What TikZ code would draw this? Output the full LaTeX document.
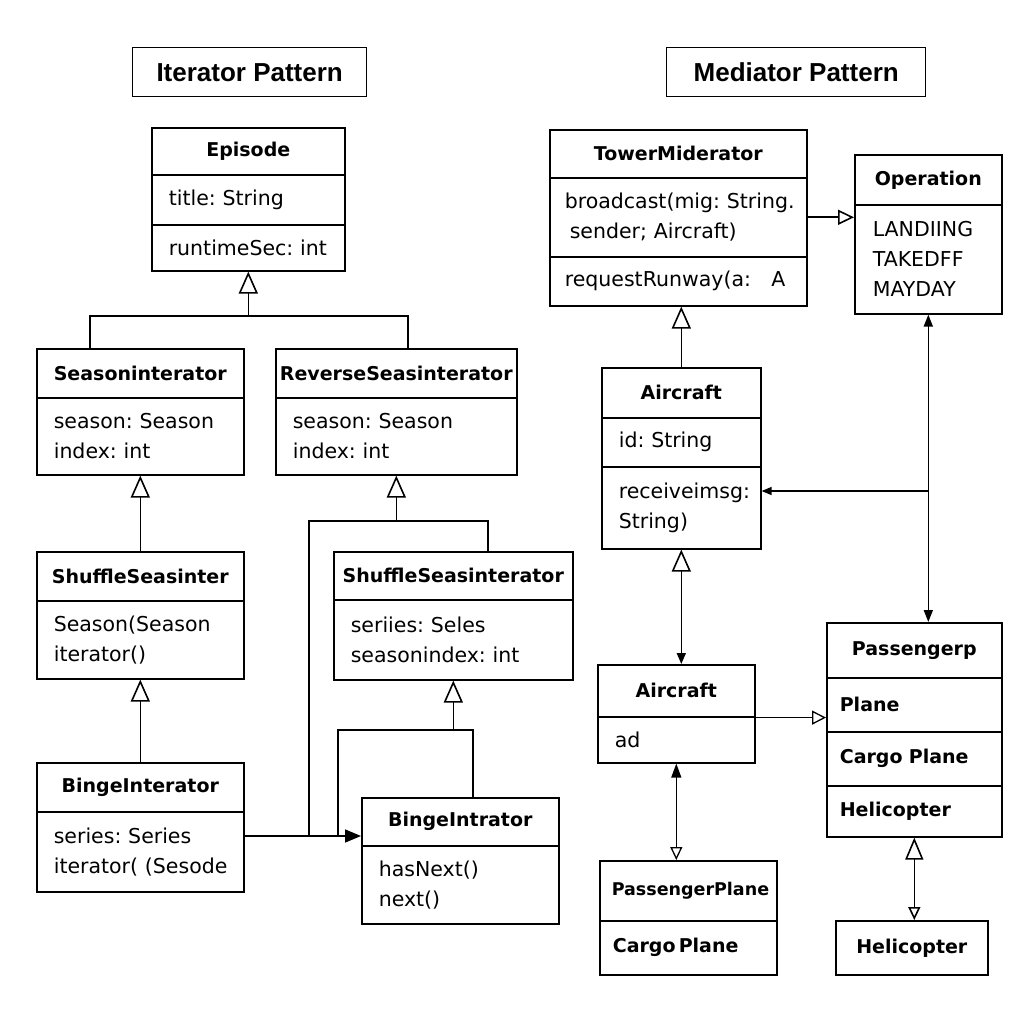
\documentclass[tikz,border=0pt]{standalone}
\usepackage{fontspec}
\setmainfont{DejaVu Sans}
\newfontfamily\titlefont{Liberation Sans}
\usetikzlibrary{arrows.meta}
\frenchspacing

\newcommand{\bodyfont}{\fontsize{20.5}{30}\selectfont}
\newcommand{\headfont}{\fontsize{19}{22}\selectfont\bfseries}

\tikzset{
  cell/.style={draw, line width=1.6pt, anchor=north west, inner xsep=17pt, inner ysep=0pt, align=left, font=\bodyfont},
  head/.style={draw, line width=1.6pt, anchor=north west, inner sep=0pt, font=\headfont},
  headl/.style={cell, inner xsep=13pt, font=\headfont},
  ttl/.style={draw, line width=1.4pt, anchor=north west, inner sep=0pt, minimum height=49pt, font=\titlefont\fontsize{26}{30}\selectfont\bfseries},
  link/.style={line width=1.6pt},
  gen/.style={link, -{Triangle[open, length=22pt, width=19pt]}},
  gens/.style={link, -{Triangle[open, length=16pt, width=15pt]}}
}

\begin{document}
\begin{tikzpicture}[x=1pt, y=-1pt]
\useasboundingbox (0,0) rectangle (1024,1024);

% titles
\node[ttl, minimum width=234pt] (itp) at (132,47) {Iterator Pattern};
\node[ttl, minimum width=259pt] (mdp) at (666,47) {Mediator Pattern};

% iterator side
\node[head, minimum width=193pt, minimum height=47pt] (eph) at (151,127) {Episode};
\node[cell, text width=159pt, minimum height=50pt] (epa) at (151,174) {title: String};
\node[cell, text width=159pt, minimum height=46pt] (epb) at (151,224) {\mbox{runtimeSec: int}};

\node[head, minimum width=207pt, minimum height=49pt] (sih) at (36,348) {Seasoninterator};
\node[cell, text width=173pt, minimum height=77pt] (sib) at (36,397) {season: Season\\index: int};

\node[head, minimum width=241pt, minimum height=49pt] (rvh) at (275,348) {ReverseSeasinterator};
\node[cell, text width=207pt, minimum height=77pt] (rvb) at (275,397) {season: Season\\index: int};

\node[head, minimum width=207pt, minimum height=49pt] (shh) at (36,551) {ShuffleSeasinter};
\node[cell, text width=173pt, minimum height=78pt] (shb) at (36,600) {Season(Season\\iterator()};

\node[head, minimum width=239pt, minimum height=48pt] (ssh) at (333,551) {ShuffleSeasinterator};
\node[cell, text width=205pt, minimum height=80pt] (ssb) at (333,599) {seriies: Seles\\seasonindex: int};

\node[head, minimum width=207pt, minimum height=49pt] (blh) at (36,762) {BingeInterator};
\node[cell, text width=173pt, minimum height=80pt] (blb) at (36,811) {\mbox{series: Series}\\\mbox{iterator( (Sesode}};

\node[head, minimum width=197pt, minimum height=48pt] (bih) at (361,797) {BingeIntrator};
\node[cell, text width=163pt, minimum height=78pt] (bib) at (361,845) {hasNext()\\next()};

% mediator side
\node[head, minimum width=257pt, minimum height=48pt] (twh) at (549,129) {TowerMiderator};
\node[cell, inner xsep=15pt, text width=227pt, minimum height=79pt] (twa) at (549,177) {\mbox{broadcast(mig: String.}\\\mbox{\hspace{5pt}sender; Aircraft)}};
\node[cell, inner xsep=15pt, text width=227pt, minimum height=49pt] (twb) at (549,256) {\mbox{requestRunway(a:~~~A}};

\node[head, minimum width=147pt, minimum height=50pt] (oph) at (854,154) {Operation};
\node[cell, inner xsep=18pt, text width=111pt, minimum height=109pt] (opb) at (854,204) {LANDIING\\TAKEDFF\\MAYDAY};

\node[head, minimum width=159pt, minimum height=50pt] (ach) at (601,367) {Aircraft};
\node[cell, text width=125pt, minimum height=49pt] (aca) at (601,417) {\mbox{id: String}};
\node[cell, text width=125pt, minimum height=82pt] (acb) at (601,466) {receiveimsg:\\String)};

\node[head, minimum width=157pt, minimum height=52pt] (a2h) at (597,664) {Aircraft};
\node[cell, text width=123pt, minimum height=46pt] (a2b) at (597,716) {ad};

\node[head, minimum width=175pt, minimum height=55pt] (pph) at (826,622) {Passengerp};
\node[headl, text width=149pt, minimum height=54pt] (ppa) at (826,677) {Plane};
\node[headl, text width=149pt, minimum height=54pt] (ppb) at (826,731) {\mbox{Cargo Plane}};
\node[headl, text width=149pt, minimum height=51pt] (ppc) at (826,785) {Helicopter};

\node[headl, inner xsep=12pt, text width=153pt, minimum height=60pt, font=\fontsize{17.5}{22}\selectfont\bfseries] (plh) at (599,860) {PassengerPlane};
\node[headl, text width=151pt, minimum height=54pt] (plb) at (599,920) {\mbox{Cargo\,Plane}};

\node[head, minimum width=152pt, minimum height=54pt] (hel) at (835,920) {Helicopter};

% joints
\coordinate (row) at (0,836);
\coordinate (rcv) at (0,491);
\coordinate (j1) at (90,316);
\coordinate (j2) at (408,316);
\coordinate (k1) at (309,521);
\coordinate (k2) at (488,521);
\coordinate (k3) at (338,730);
\coordinate (k4) at (473,730);

% iterator links
\draw[gen] (epb.south |- j1) -- (epb.south);
\draw[link] (j1 |- sih.north) -- (j1) -- (j2) -- (j2 |- rvh.north);
\draw[gen] (shh.north) -- (sib.south);
\draw[gen] (blh.north) -- (shb.south);
\draw[gen] (rvb.south |- k1) -- (rvb.south);
\draw[link] (k1 |- row) -- (k1) -- (k2) -- (k2 |- ssh.north);
\draw[gen] (ssb.south |- k3) -- (ssb.south);
\draw[link] (k3 |- row) -- (k3) -- (k4) -- (k4 |- bih.north);
\draw[link, -{Triangle[length=16pt, width=13pt]}] (blb.east |- row) -- (bih.west |- row);

% mediator links
\draw[gens] (twa.east) -- (twa.east -| opb.west);
\draw[gen] (ach.north) -- (ach.north |- twb.south);
\draw[link, {Triangle[length=12pt, width=9pt]}-{Triangle[length=12pt, width=9pt]}] (opb.south) -- (opb.south |- pph.north);
\draw[link, line width=1.3pt, -{Triangle[length=10pt, width=8pt]}] (opb.south |- rcv) -- (acb.east |- rcv);
\draw[link, {Triangle[open, length=22pt, width=19pt]}-{Triangle[length=11pt, width=9pt]}] (acb.south) -- (acb.south |- a2h.north);
\draw[link, line width=1.3pt, -{Triangle[open, length=14pt, width=14pt]}] (a2h.south east) -- (a2h.south east -| ppa.west);
\draw[link, line width=1.3pt, {Triangle[length=14pt, width=10pt]}-{Triangle[open, length=13pt, width=12pt]}] (a2b.south) -- (a2b.south |- plh.north);
\draw[link, {Triangle[open, length=22pt, width=18pt]}-{Triangle[open, length=13pt, width=12pt]}] (ppc.south) -- (ppc.south |- hel.north);
\end{tikzpicture}
\end{document}
